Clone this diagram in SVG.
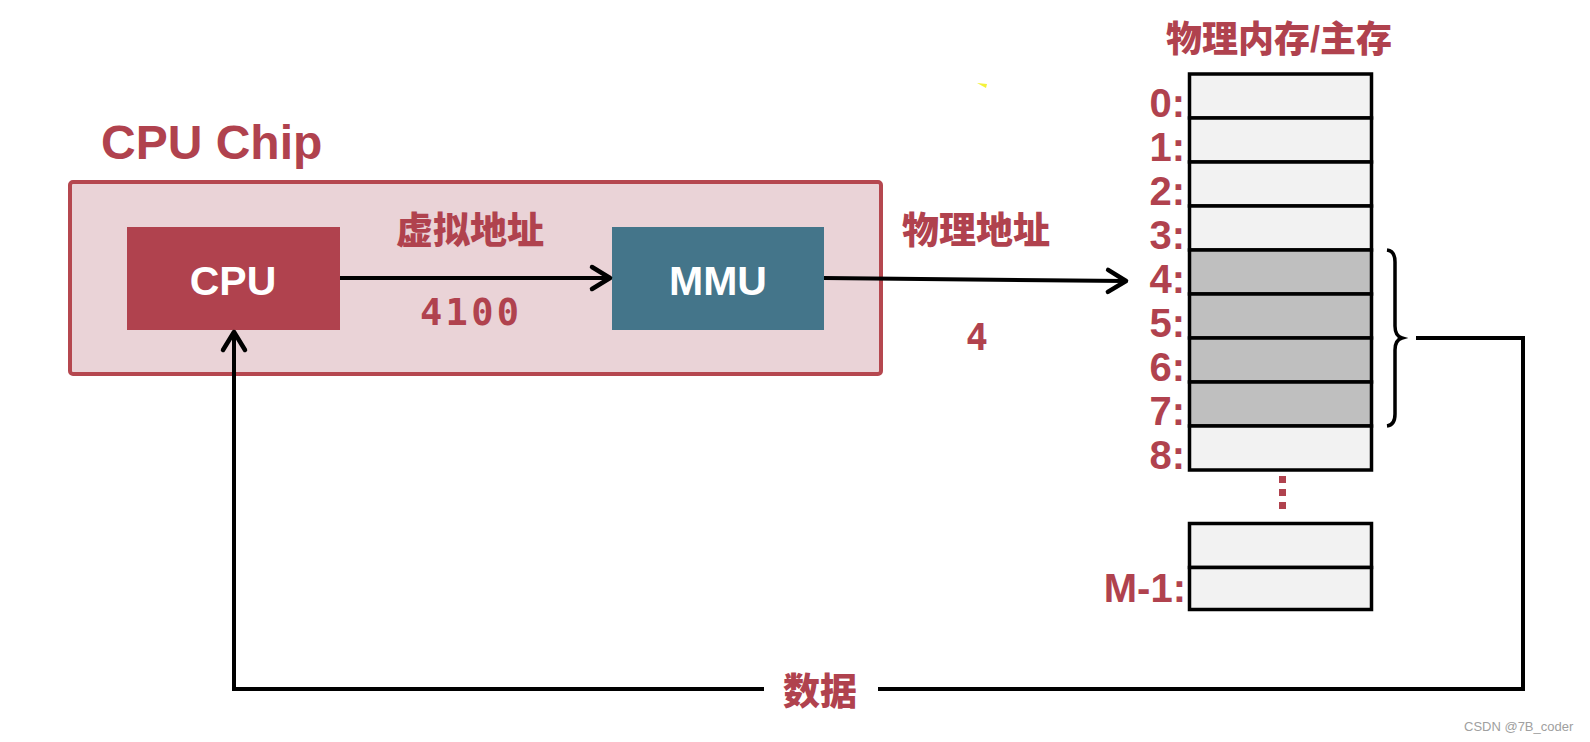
<svg xmlns="http://www.w3.org/2000/svg" width="1590" height="742" viewBox="0 0 1590 742">
  <style>
    .lat { font-family: "Liberation Sans", Arial, sans-serif; font-weight: bold; }
    .cjk { font-family: "Liberation Sans", "Noto Sans CJK SC", sans-serif; font-weight: 900; fill: #B0424E; }
    .mono { font-family: "DejaVu Sans Mono", "Liberation Mono", monospace; font-weight: bold; fill: #B0424E; }
    .red { fill: #B0424E; }
    .wire { fill: none; stroke: #000; stroke-width: 4; }
    .cell { stroke: #000; stroke-width: 3.5; }
    .free { fill: #F2F2F2; }
    .used { fill: #BFBFBF; }
    .addr { font-family: "Liberation Sans", Arial, sans-serif; font-weight: bold; font-size: 40px; fill: #B0424E; text-anchor: end; }
  </style>
  <defs>
    <marker id="chev" markerUnits="userSpaceOnUse" viewBox="-24 -15 28 30" markerWidth="28" markerHeight="30" refX="0" refY="0" orient="auto">
      <path d="M-18,-11 L0,0 L-18,11" fill="none" stroke="#000" stroke-width="4.5" stroke-linecap="round" stroke-linejoin="round"/>
    </marker>
  </defs>

  <rect width="1590" height="742" fill="#fff"/>

  <!-- CPU chip enclosure -->
  <g id="cpu-chip">
    <rect x="70" y="182" width="811" height="192" rx="3" fill="#EAD3D7" stroke="#B5474F" stroke-width="4"/>
    <text class="lat red" x="101" y="159" font-size="48">CPU Chip</text>
  </g>

  <g id="cpu">
    <rect x="127" y="227" width="213" height="103" fill="#B0424E"/>
    <text class="lat" x="233" y="295" font-size="41" fill="#fff" text-anchor="middle">CPU</text>
  </g>

  <g id="mmu">
    <rect x="612" y="227" width="212" height="103" fill="#44758A"/>
    <text class="lat" x="718" y="295" font-size="41" fill="#fff" text-anchor="middle">MMU</text>
  </g>

  <!-- physical memory column -->
  <g id="memory">
    <text class="cjk" x="1279" y="52" font-size="36" text-anchor="middle">物理内存/主存</text>
    <rect class="cell free" x="1189.5" y="74" width="182" height="44"/>
    <rect class="cell free" x="1189.5" y="118" width="182" height="44"/>
    <rect class="cell free" x="1189.5" y="162" width="182" height="44"/>
    <rect class="cell free" x="1189.5" y="206" width="182" height="44"/>
    <rect class="cell used" x="1189.5" y="250" width="182" height="44"/>
    <rect class="cell used" x="1189.5" y="294" width="182" height="44"/>
    <rect class="cell used" x="1189.5" y="338" width="182" height="44"/>
    <rect class="cell used" x="1189.5" y="382" width="182" height="44"/>
    <rect class="cell free" x="1189.5" y="426" width="182" height="44"/>
    <rect class="cell free" x="1189.5" y="523.5" width="182" height="44"/>
    <rect class="cell free" x="1189.5" y="567.5" width="182" height="42"/>
    <text class="addr" x="1185" y="117">0:</text>
    <text class="addr" x="1185" y="161">1:</text>
    <text class="addr" x="1185" y="205">2:</text>
    <text class="addr" x="1185" y="249">3:</text>
    <text class="addr" x="1185" y="293">4:</text>
    <text class="addr" x="1185" y="337">5:</text>
    <text class="addr" x="1185" y="381">6:</text>
    <text class="addr" x="1185" y="425">7:</text>
    <text class="addr" x="1185" y="469">8:</text>
    <text class="addr" x="1186" y="602">M-1:</text>
    <rect class="red" x="1279" y="476" width="7" height="7"/>
    <rect class="red" x="1279" y="489" width="7" height="7"/>
    <rect class="red" x="1279" y="502" width="7" height="7"/>
  </g>

  <!-- brace grouping rows 4..7 -->
  <g id="brace">
    <path d="M1387,250 Q1395,251 1395,262 L1395,326 Q1395,336 1402,338 Q1395,340 1395,350 L1395,414 Q1395,425 1387,426" fill="none" stroke="#000" stroke-width="3.5"/>
  </g>

  <!-- connectors -->
  <g id="connectors">
    <path class="wire" d="M340,278 H610" marker-end="url(#chev)"/>
    <path class="wire" d="M824,278 L1126,281" marker-end="url(#chev)"/>
    <path class="wire" d="M1416,338 H1523 V689 H878"/>
    <path class="wire" d="M764,689 H234 V332" marker-end="url(#chev)"/>
  </g>

  <!-- connector labels -->
  <g id="labels">
    <text class="cjk" x="470" y="244" font-size="37" text-anchor="middle">虚拟地址</text>
    <text class="mono" x="420" y="325" font-size="37" textLength="99" lengthAdjust="spacing">4100</text>
    <text class="cjk" x="976" y="244" font-size="37" text-anchor="middle">物理地址</text>
    <text class="mono" x="977" y="350" font-size="37" text-anchor="middle">4</text>
    <text class="cjk" x="820" y="705" font-size="37" text-anchor="middle">数据</text>
  </g>

  <polygon points="977,83 987,84 986,88" fill="#F4F23A"/>
  <text x="1464" y="731" font-family="'Liberation Sans', Arial, sans-serif" font-size="13" fill="#A0A0A0">CSDN @7B_coder</text>
</svg>
